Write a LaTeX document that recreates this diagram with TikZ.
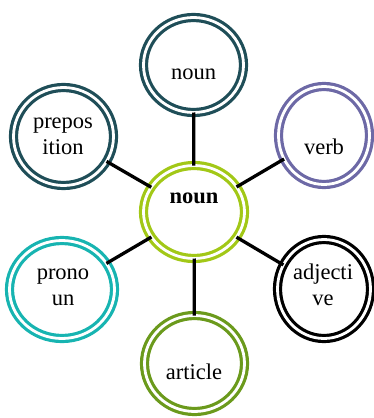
\documentclass[tikz,border=0pt]{standalone}
\usepackage{fontspec}
\setmainfont{Liberation Serif}
\usetikzlibrary{shapes.geometric}
\definecolor{DarkTeal}{HTML}{1F4E58}
\definecolor{Lavender}{HTML}{6D69A6}
\definecolor{Aqua}{HTML}{17B4B1}
\definecolor{Olive}{HTML}{6B9A1C}
\definecolor{Lime}{HTML}{A2C817}

\tikzset{
  ring/.style={ellipse,draw=#1,line width=3.2pt,double=white,double distance=2.8pt,
    fill=white,inner sep=0pt,outer sep=0pt,minimum width=100pt,minimum height=96pt},
  word/.style={anchor=base,inner sep=0pt,align=center,font=\fontsize{22.5}{26}\selectfont},
  link/.style={line width=3.3pt}
}

\begin{document}
\begin{tikzpicture}[x=1pt,y=-1pt]
  \useasboundingbox (0,0) rectangle (374,418);
  % rings
  \node[ring=Lime,minimum width=101pt,minimum height=93pt] (mid) at (194,212) {};
  \node[ring=DarkTeal,minimum height=95pt] (top) at (193.5,65) {};
  \node[ring=DarkTeal,minimum height=98pt] (prep) at (63.5,136.5) {};
  \node[ring=Lavender,minimum width=91pt,minimum height=98pt] (verb) at (324,135.5) {};
  \node[ring=black,minimum width=93pt,minimum height=99pt] (adj) at (324,289) {};
  \node[ring=Aqua,minimum width=105pt,minimum height=98pt] (pron) at (62,289.5) {};
  \node[ring=Olive,minimum height=96pt] (art) at (194.5,363.5) {};
  % spokes
  \foreach \n in {top,prep,verb,adj,pron,art}
    \draw[link] (mid) -- (\n);
  % labels (base = last line)
  \node[word,font=\fontsize{22.5}{26}\selectfont\bfseries] (midtext) at (194,203) {noun};
  \node[word] (toptext) at (193.5,79) {noun};
  \node[word] (preptext) at (63,154) {prepos\\ition};
  \node[word] (verbtext) at (324,154) {verb};
  \node[word] (adjtext) at (323,305) {adjecti\\ve};
  \node[word] (prontext) at (63,305) {prono\\un};
  \node[word] (arttext) at (194,379) {article};
\end{tikzpicture}
\end{document}
